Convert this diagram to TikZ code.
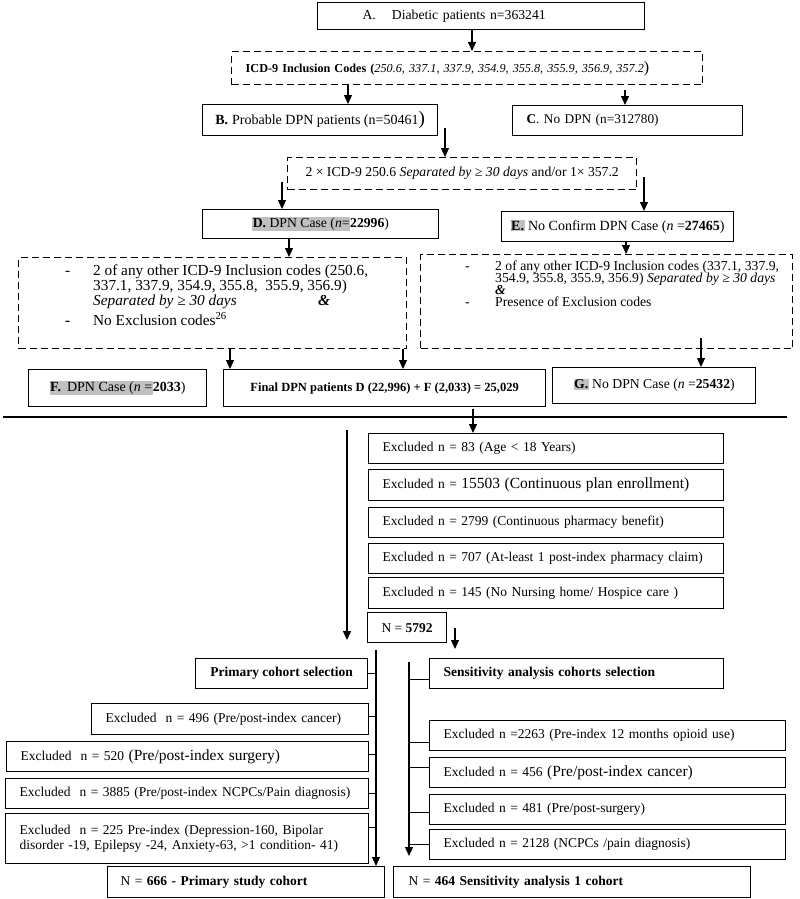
\documentclass[tikz,border=0pt]{standalone}
\usepackage{fontspec}
\setmainfont{Liberation Serif}
\usetikzlibrary{arrows.meta}
\definecolor{hlgray}{RGB}{192,192,192}
\newcommand\hlt[1]{{\setlength{\fboxsep}{0.6pt}\colorbox{hlgray}{#1}}}
\newcommand\fsz[1]{\fontsize{#1}{#1}\selectfont}
\begin{document}
\begin{tikzpicture}[x=1pt,y=-1pt,
  box/.style={draw=black, line width=1.2pt, anchor=north west, inner ysep=0pt, font=\fsz{13.5}},
  cbox/.style={box, inner xsep=0pt},
  lbox/.style={box, align=left},
  dbox/.style={draw=black, line width=1.4pt, dash pattern=on 7pt off 4pt, anchor=north west, inner sep=0pt},
  txt/.style={anchor=base west, inner sep=0pt},
  arr/.style={draw=black, line width=1.2pt, -{Triangle[length=9pt,width=8pt]}},
  ln/.style={draw=black, line width=1.2pt},
]
\useasboundingbox (0,0) rectangle (800,899);
\fill[white] (0,0) rectangle (800,899);

% ---------- top part ----------
\node[lbox, minimum height=27, text width=237, inner xsep=45, font=\fsz{13.7}] (A) at (317,2) {A.\hspace{16pt}Diabetic patients n=363241};
\node[dbox, minimum width=471, minimum height=33, align=left, text width=443, inner xsep=14, font=\fsz{12.2}] (icd) at (231,51) {\textbf{ICD-9 Inclusion Codes (}\textit{250.6, 337.1, 337.9, 354.9, 355.8, 355.9, 356.9, 357.2}{\fsz{16})}};
\node[cbox, minimum width=235, minimum height=31, font=\fsz{14}] (B) at (202,104) {\textbf{B.}\hspace{4pt}Probable DPN patients (n=50461{\fsz{19})}};
\node[lbox, minimum height=30, text width=202, inner xsep=14, font=\fsz{13.3}] (C) at (512,105) {\textbf{C}. No DPN (n=312780)};
\node[dbox, minimum width=349, minimum height=32, font=\fsz{13.7}] (d2) at (287,157) {2 × ICD-9 250.6 \textit{Separated by ≥ 30 days} and/or 1× 357.2};
\node[cbox, minimum width=236, minimum height=29, font=\fsz{13.7}] (D) at (202,209) {\hlt{\textbf{D.} DPN Case (\textit{n}=}\textbf{22996})};
\node[cbox, minimum width=232, minimum height=30, font=\fsz{14}] (E) at (501,211) {\hlt{\textbf{E.}} No Confirm DPN Case (\textit{n} =\textbf{27465})};

% dashed box left
\node[dbox, minimum width=388, minimum height=91] (d3) at (18,257) {};
\node[txt, font=\fsz{15.3}] (d3m1) at (65,275) {-};
\node[txt, font=\fsz{15.3}] (d3l1) at (93,275) {2 of any other ICD-9 Inclusion codes (250.6,};
\node[txt, font=\fsz{15.3}] (d3l2) at (93,290) {337.1, 337.9, 354.9, 355.8,\ \ 355.9, 356.9)};
\node[txt, font=\fsz{15.3}] (d3l3) at (93,305) {\textit{Separated by ≥ 30 days}};
\node[txt, font=\fsz{15.3}] (d3amp) at (318,305) {\textbf{\textit{\&}}};
\node[txt, font=\fsz{15.3}] (d3m2) at (65,325) {\textbf{-}};
\node[txt, font=\fsz{15.3}] (d3l4) at (93,325) {No Exclusion codes\textsuperscript{26}};

% dashed box right
\node[dbox, minimum width=372, minimum height=94] (d4) at (420,254) {};
\node[txt, font=\fsz{13.7}] (d4m1) at (465,270) {-};
\node[txt, font=\fsz{13.7}] (d4l1) at (495,270) {2 of any other ICD-9 Inclusion codes (337.1, 337.9,};
\node[txt, font=\fsz{13.7}] (d4l2) at (495,282) {354.9, 355.8, 355.9, 356.9) \textit{Separated by ≥ 30 days}};
\node[txt, font=\fsz{13.7}] (d4amp) at (495,294) {\textbf{\textit{\&}}};
\node[txt, font=\fsz{13.7}] (d4m2) at (465,306) {-};
\node[txt, font=\fsz{13.7}] (d4l3) at (495,306) {Presence of Exclusion codes};

\node[cbox, minimum width=178, minimum height=37, font=\fsz{14}] (F) at (28,369) {\hlt{\textbf{F.}\hspace{6pt}DPN Case (\textit{n} =}\textbf{2033})};
\node[cbox, minimum width=322, minimum height=37, font=\fsz{12.5}] (fin) at (223,369) {\textbf{Final DPN patients D (22,996) + F (2,033) = 25,029}};
\node[cbox, minimum width=203, minimum height=36, font=\fsz{13.7}] (G) at (552,367) {\hlt{\textbf{G.}} No DPN Case (\textit{n} =\textbf{25432})};

% ---------- exclusions ----------
\node[lbox, text width=327, inner xsep=14, minimum height=30] (x1) at (368,433) {Excluded n = 83 (Age < 18 Years)};
\node[lbox, text width=327, inner xsep=14, minimum height=31] (x2) at (368,469) {Excluded n = {\fsz{15.5}15503 (Continuous plan enrollment)}};
\node[lbox, text width=327, inner xsep=14, minimum height=30] (x3) at (368,507) {Excluded n = 2799 (Continuous pharmacy benefit)};
\node[lbox, text width=327, inner xsep=14, minimum height=30] (x4) at (368,543) {Excluded n = 707 (At-least 1 post-index pharmacy claim)};
\node[lbox, text width=327, inner xsep=14, minimum height=31] (x5) at (368,577) {Excluded n = 145 (No Nursing home/ Hospice care )};
\node[cbox, minimum width=79, minimum height=30] (N) at (367,612) {N = \textbf{5792}};

% ---------- primary cohort ----------
\node[cbox, minimum width=172, minimum height=30] (p0) at (195,658) {\textbf{Primary cohort selection}};
\node[lbox, text width=249, inner xsep=14, minimum height=31] (p1) at (91,703) {Excluded\hspace{9pt}n = 496 (Pre/post-index cancer)};
\node[lbox, text width=334, inner xsep=14, minimum height=30] (p2) at (6,741) {Excluded\hspace{9pt}n = 520 {\fsz{15.5}(Pre/post-index surgery)}};
\node[lbox, text width=335, inner xsep=14, minimum height=30] (p3) at (5,778) {Excluded\hspace{9pt}n = 3885 (Pre/post-index NCPCs/Pain diagnosis)};
\node[lbox, text width=335, inner xsep=14, minimum height=50, font=\fontsize{13.5}{15}\selectfont] (p4) at (5,813) {Excluded\hspace{9pt}n = 225 Pre-index (Depression-160, Bipolar\\disorder -19, Epilepsy -24, Anxiety-63, >1 condition- 41)};
\node[lbox, text width=251, inner xsep=13, minimum height=31] (p5) at (107,866) {N = \textbf{666 - Primary study cohort}};

% ---------- sensitivity cohort ----------
\node[lbox, text width=266, inner xsep=14, minimum height=30] (s0) at (429,658) {\textbf{Sensitivity analysis cohorts selection}};
\node[lbox, text width=328, inner xsep=14, minimum height=30] (s1) at (429,720) {Excluded n =2263 (Pre-index 12 months opioid use)};
\node[lbox, text width=328, inner xsep=14, minimum height=30] (s2) at (429,757) {Excluded n = 456 {\fsz{15.5}(Pre/post-index cancer)}};
\node[lbox, text width=328, inner xsep=14, minimum height=30] (s3) at (429,794) {Excluded n = 481 (Pre/post-surgery)};
\node[lbox, text width=328, inner xsep=14, minimum height=30] (s4) at (429,829) {Excluded n = 2128 (NCPCs /pain diagnosis)};
\node[lbox, text width=327, inner xsep=15, minimum height=31] (s5) at (393,866) {N = \textbf{464 Sensitivity analysis 1 cohort}};

% ---------- coordinates ----------
\coordinate (cA) at (472,0);
\coordinate (cB) at (348,0);
\coordinate (cC) at (625,0);
\coordinate (sB) at (445,128);
\coordinate (sD) at (282,182);
\coordinate (sE) at (644,177);
\coordinate (cD) at (289,0);
\coordinate (cE) at (626,0);
\coordinate (cF) at (230,0);
\coordinate (cFin) at (403,0);
\coordinate (sG) at (701,338);
\coordinate (hl1) at (3,417);
\coordinate (hl2) at (787,417);
\coordinate (sX) at (473,409);
\coordinate (lt1) at (347,430);
\coordinate (lt2) at (347,640);
\coordinate (sN1) at (455,628);
\coordinate (sN2) at (455,649);
\coordinate (pv) at (376,650);
\coordinate (sv1) at (409,662);
\coordinate (sv2) at (409,856);

% ---------- connectors ----------
\draw[arr] (A.south -| cA) -- (icd.north -| cA);
\draw[arr] (icd.south -| cB) -- (B.north -| cB);
\draw[arr, shorten <=5pt] (icd.south -| cC) -- (C.north -| cC);
\draw[arr] (sB) -- (sB |- d2.north);
\draw[arr] (sD) -- (sD |- D.north);
\draw[arr] (sE) -- (sE |- E.north);
\draw[arr] (D.south -| cD) -- (d3.north -| cD);
\draw[arr] (E.south -| cE) -- (d4.north -| cE);
\draw[arr] (d3.south -| cF) -- (F.north -| cF);
\draw[arr] (d3.south -| cFin) -- (fin.north -| cFin);
\draw[arr] (sG) -- (sG |- G.north);
\draw[ln] (hl1) -- (hl2);
\draw[arr] (sX) -- (sX |- x1.north);
\draw[arr] (lt1) -- (lt2);
\draw[arr] (sN1) -- (sN2);

\draw[arr] (pv) -- (pv |- p5.north);
\draw[ln] (p0.east) -- (p0.east -| pv);
\draw[ln] ([yshift=3pt]p1.east) -- ([yshift=3pt]p1.east -| pv);
\draw[ln] ([yshift=2pt]p2.east) -- ([yshift=2pt]p2.east -| pv);
\draw[ln] (p3.east) -- (p3.east -| pv);
\draw[ln] ([yshift=11pt]p4.east) -- ([yshift=11pt]p4.east -| pv);

\draw[arr] (sv1) -- (sv2);
\draw[ln] ([yshift=-6pt]s0.west -| sv1) -- ([yshift=-6pt]s0.west);
\draw[ln] ([yshift=-7pt]s1.west -| sv1) -- ([yshift=-7pt]s1.west);
\draw[ln] ([yshift=5pt]s2.west -| sv1) -- ([yshift=5pt]s2.west);
\draw[ln] ([yshift=-3pt]s3.west -| sv1) -- ([yshift=-3pt]s3.west);
\draw[ln] (s4.west -| sv1) -- (s4.west);
\end{tikzpicture}
\end{document}
